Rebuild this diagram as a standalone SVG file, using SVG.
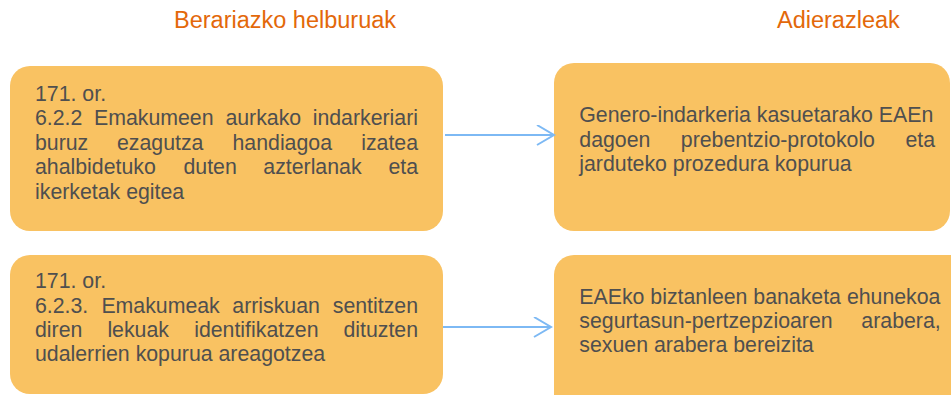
<svg xmlns="http://www.w3.org/2000/svg" width="951" height="395" viewBox="0 0 951 395">
<defs>
<style>
.hdr{font-family:"Liberation Sans",Arial,sans-serif;font-size:23.5px;fill:#E3680A}
.box{fill:#F9C262}
.t{font-family:"Liberation Sans",Arial,sans-serif;font-size:21.3px;fill:#4F4F4F}
.e{text-anchor:end}
.conn{stroke:#7DB9F4;stroke-width:2;fill:none}
</style>
<marker id="arr" markerWidth="20" markerHeight="22" refX="18" refY="10" orient="auto" markerUnits="userSpaceOnUse">
<path d="M1,0 L18,10 L1,20" fill="none" stroke="#7DB9F4" stroke-width="2"/>
</marker>
</defs>
<rect width="951" height="395" fill="#FFFFFF"/>
<text class="hdr" x="174" y="28">Berariazko helburuak</text>
<text class="hdr" x="777" y="28">Adierazleak</text>

<g id="node-1">
<rect class="box" x="10" y="66" width="433" height="165" rx="20" ry="20"/>
<text class="t" x="35" y="100.5">171. or.</text>
<text class="t" y="125"><tspan x="35">6.2.2</tspan><tspan x="94">Emakumeen</tspan><tspan x="225.4">aurkako</tspan></text>
<text class="t e" x="418" y="125">indarkeriari</text>
<text class="t" y="149.5"><tspan x="35">buruz</tspan><tspan x="117">ezagutza</tspan><tspan x="232.5">handiagoa</tspan></text>
<text class="t e" x="418" y="149.5">izatea</text>
<text class="t" y="174"><tspan x="35">ahalbidetuko</tspan><tspan x="183.5">duten</tspan><tspan x="263.3">azterlanak</tspan></text>
<text class="t e" x="418" y="174">eta</text>
<text class="t" x="35" y="198.5">ikerketak egitea</text>
</g>

<g id="node-2">
<rect class="box" x="554" y="63" width="396" height="168" rx="20" ry="20"/>
<text class="t" x="579.3" y="122.3">Genero-indarkeria kasuetarako EAEn</text>
<text class="t" y="146.6"><tspan x="579.3">dagoen</tspan><tspan x="680.8">prebentzio-protokolo</tspan></text>
<text class="t e" x="935" y="146.6">eta</text>
<text class="t" x="579.3" y="170.8">jarduteko prozedura kopurua</text>
</g>

<g id="node-3">
<rect class="box" x="10" y="255" width="433" height="139" rx="20" ry="20"/>
<text class="t" x="35" y="288.4">171. or.</text>
<text class="t" y="312.6"><tspan x="35">6.2.3.</tspan><tspan x="101.4">Emakumeak</tspan><tspan x="232.3">arriskuan</tspan></text>
<text class="t e" x="418" y="312.6">sentitzen</text>
<text class="t" y="336.7"><tspan x="35">diren</tspan><tspan x="107.4">lekuak</tspan><tspan x="194.2">identifikatzen</tspan></text>
<text class="t e" x="418" y="336.7">dituzten</text>
<text class="t" x="35" y="360.8">udalerrien kopurua areagotzea</text>
</g>

<g id="node-4">
<rect class="box" x="554" y="255" width="420" height="160" rx="20" ry="20"/>
<text class="t" x="579.3" y="304">EAEko biztanleen banaketa ehunekoa</text>
<text class="t" x="579.3" y="328.2">segurtasun-pertzepzioaren</text>
<text class="t e" x="940.7" y="328.2">arabera,</text>
<text class="t" x="579.3" y="352.2">sexuen arabera bereizita</text>
</g>

<g id="connectors">
<line class="conn" x1="445" y1="135" x2="554" y2="135" marker-end="url(#arr)"/>
<line class="conn" x1="443" y1="327" x2="551" y2="327" marker-end="url(#arr)"/>
</g>
</svg>
